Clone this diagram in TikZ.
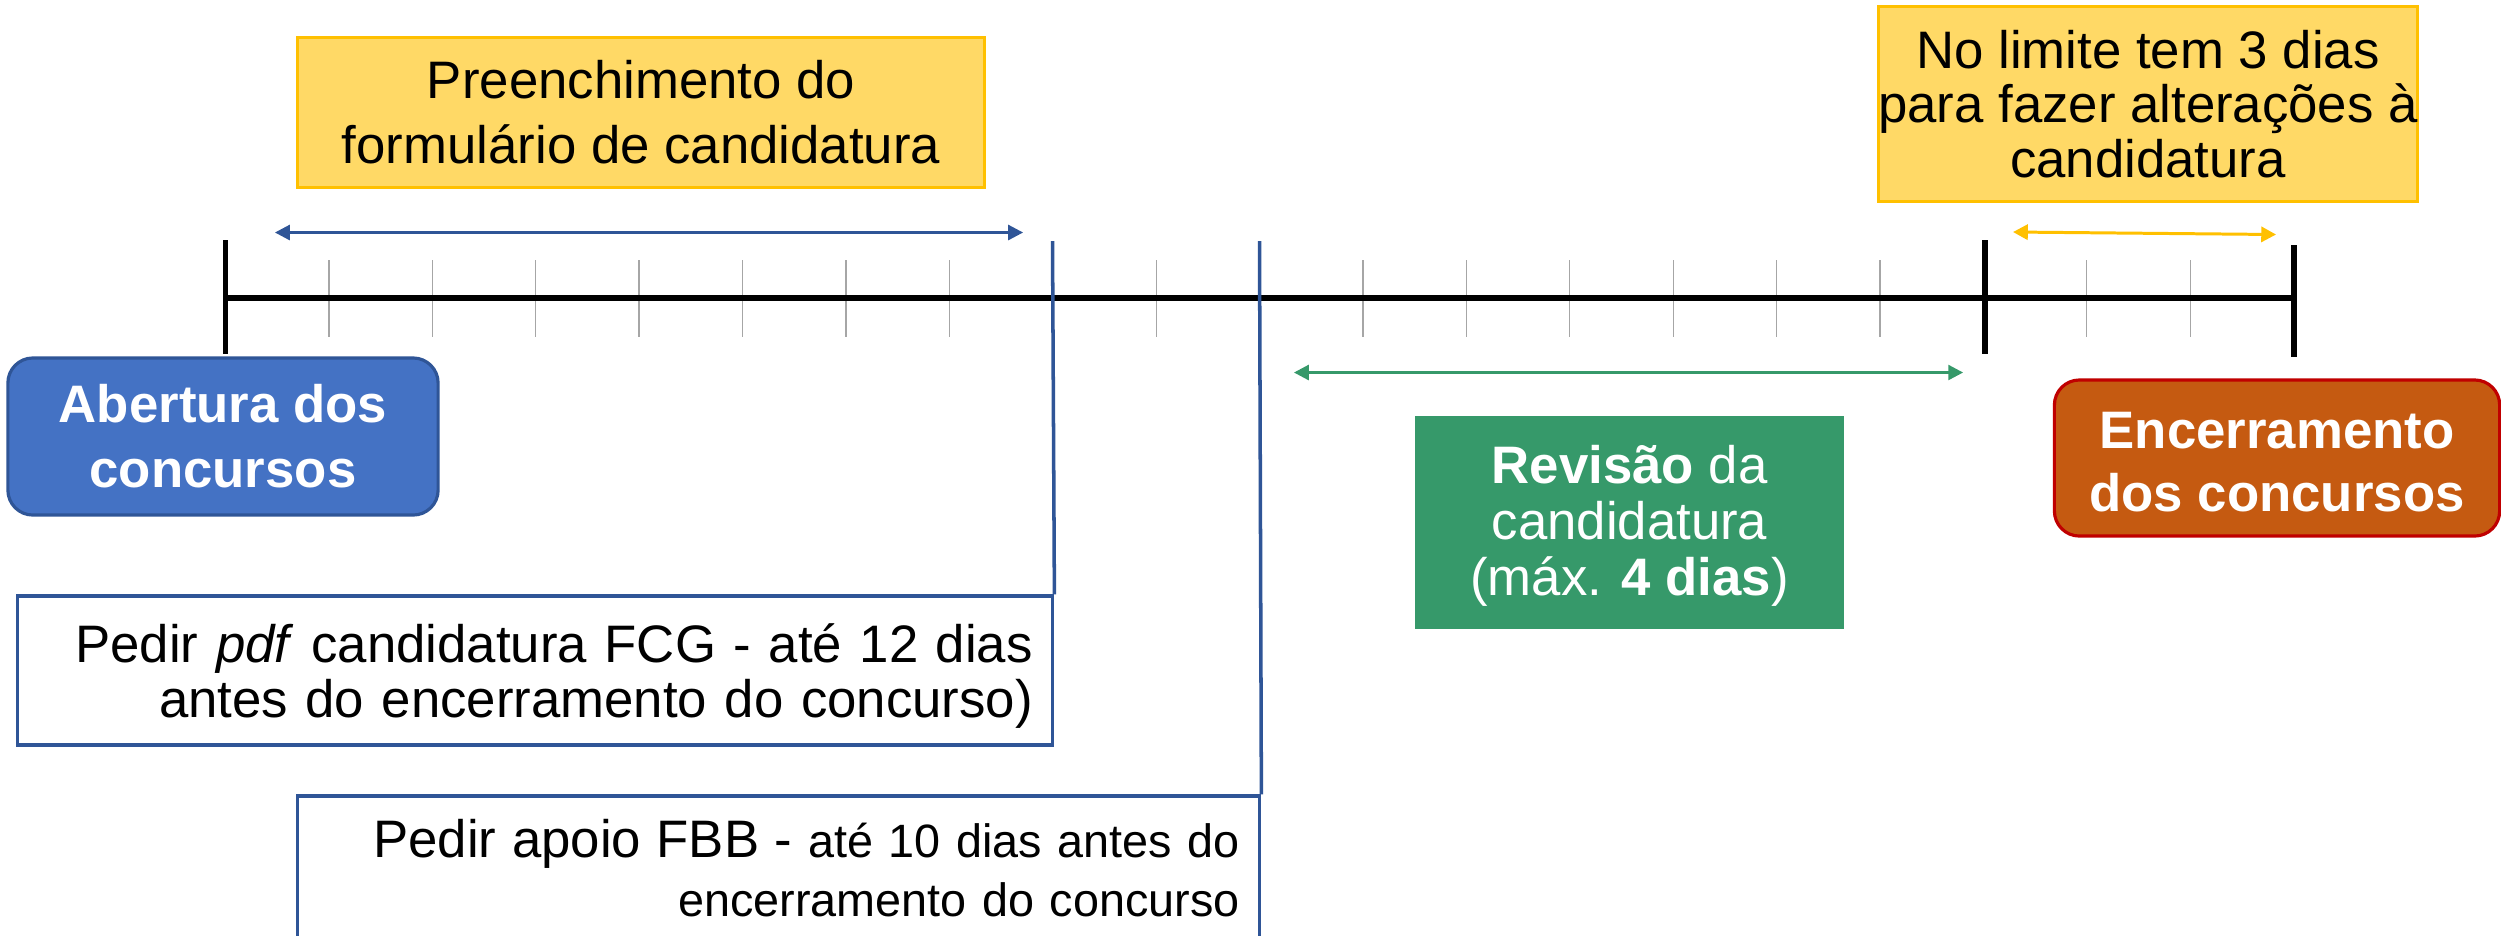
\documentclass[tikz,border=0pt]{standalone}
\usepackage{fontspec}
\setmainfont{Liberation Sans}
\usetikzlibrary{arrows.meta,positioning}

\definecolor{navy}{HTML}{2F5597}
\definecolor{boxblue}{HTML}{4472C4}
\definecolor{sand}{HTML}{FFD966}
\definecolor{amber}{HTML}{FFC000}
\definecolor{leaf}{HTML}{36996A}
\definecolor{rust}{HTML}{C55A11}
\definecolor{brick}{HTML}{C00000}
\definecolor{tickgray}{HTML}{A6A6A6}

\tikzset{
  note/.style={draw=amber,line width=0.8pt,fill=sand,align=center,inner sep=0pt,
    font=\fontsize{15}{18.5}\selectfont},
  event/.style={rounded corners=0.25cm,line width=0.9pt,text=white,align=center,
    inner sep=0pt,font=\bfseries\fontsize{15}{18.5}\selectfont},
  request/.style={draw=navy,line width=0.9pt,fill=white,align=right,
    inner xsep=0.2cm,inner ysep=0pt,font=\fontsize{15}{15.6}\selectfont},
  spanarrow/.style={<->,>={Triangle[length=4.2pt,width=4.3pt]},line width=0.6pt},
  minortick/.style={tickgray,line width=0.35pt},
  bigtick/.style={black,line width=1.6pt},
  deadline/.style={navy,line width=1pt},
}

\begin{document}
\begin{tikzpicture}[x=0.01cm,y=-0.01cm]
    \useasboundingbox (0,0) rectangle (2501,935);
    \fill[white] (0,0) rectangle (2501,935);

    % the timeline, one tick per day
    \coordinate (t0) at (225.5,298);
    \coordinate (t20) at (2294,298);
    \foreach \i in {1,...,7,9,11,12,13,14,15,16,18,19}
      \draw[minortick] ({225.5+103.4*\i},260) -- ({225.5+103.4*\i},337);
    \draw[line width=1.8pt] (t0) -- (t20);
    \draw[bigtick] (225.5,240) -- (225.5,354);
    \draw[bigtick] (1985,240) -- (1985,354);
    \draw[bigtick] (2294,245) -- (2294,357);

    % boxes
    \node[note,minimum width=6.86cm,minimum height=1.50cm] (form) at (641,112.5)
      {Preenchimento do\\formulário de candidatura};
    \node[note,minimum width=5.36cm,minimum height=1.95cm,
      font=\fontsize{15}{15.6}\selectfont] (limit) at (2148,104)
      {No limite tem 3 dias\\para fazer alterações à\\candidatura};
    \node[event,draw=navy,fill=boxblue,minimum width=4.30cm,minimum height=1.57cm]
      (open) at (223,436.5) {Abertura dos\\concursos};
    \node[event,draw=brick,fill=rust,minimum width=4.45cm,minimum height=1.56cm,
      font=\bfseries\fontsize{15}{17.9}\selectfont] (close) at (2277,458)
      {\rule{0pt}{12.7pt}Encerramento\\dos concursos};
    \node[fill=leaf,text=white,align=center,inner sep=0pt,minimum width=4.29cm,
      minimum height=2.13cm,font=\fontsize{15}{16}\selectfont] (review) at (1629.5,522.5)
      {\rule{0pt}{12.8pt}\textbf{Revisão} da\\candidatura\\(máx. \textbf{4 dias})};
    \node[request,text width=9.945cm,minimum height=1.49cm] (pdf) at (535.25,670.5)
      {\rule{0pt}{14pt}Pedir \textit{pdf} candidatura FCG - até 12 dias\\antes do encerramento do concurso)};
    \node[request,text width=9.215cm,minimum height=1.44cm,
      font=\fontsize{13.3}{16.8}\selectfont] (fbb) at (778.75,868)
      {{\fontsize{15}{16.8}\selectfont Pedir apoio FBB -} até 10 dias antes do\\encerramento do concurso};

    % deadlines
    \coordinate (d12) at (1052.5,241);
    \coordinate (d10) at (1259.5,241);
    \draw[deadline] (d12) -- (pdf.north east);
    \draw[deadline] (d10) -- (fbb.north east);

    % spans
    \coordinate (fa) at (275,232.5);
    \coordinate (fb) at (1023,232.5);
    \coordinate (ra) at (1294,372.5);
    \coordinate (rb) at (1963,372.5);
    \coordinate (la) at (2013,232);
    \coordinate (lb) at (2276,234.5);
    \path[spanarrow,navy] (fa) edge (fb);
    \path[spanarrow,leaf] (ra) edge (rb);
    \path[spanarrow,amber,line width=0.85pt] (la) edge (lb);
\end{tikzpicture}
\end{document}
